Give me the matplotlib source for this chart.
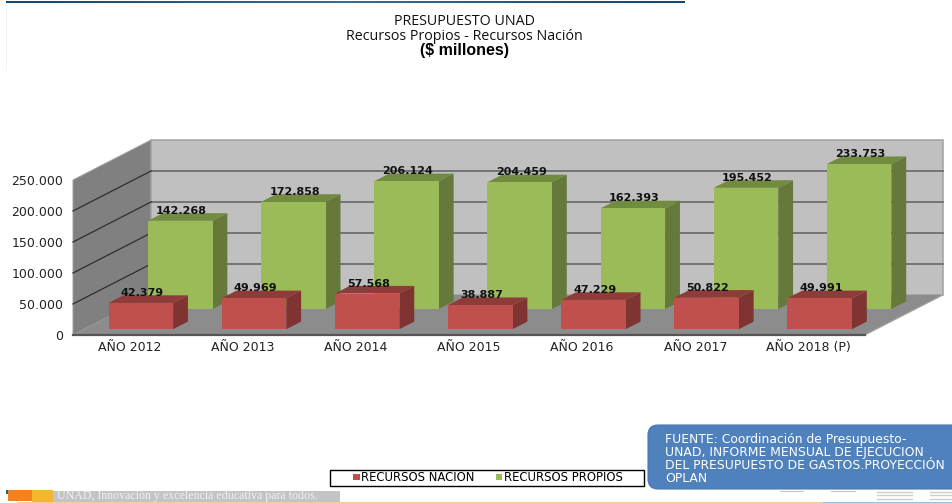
import matplotlib
matplotlib.use('Agg')
import matplotlib.pyplot as plt
from matplotlib.colors import LinearSegmentedColormap
from matplotlib.patches import Polygon, Rectangle, FancyBboxPatch
import numpy as np

years = ['AÑO 2012', 'AÑO 2013', 'AÑO 2014', 'AÑO 2015', 'AÑO 2016', 'AÑO 2017', 'AÑO 2018 (P)']
recursos_nacion = [42379, 49969, 57568, 38887, 47229, 50822, 49991]
recursos_propios = [142268, 172858, 206124, 204459, 162393, 195452, 233753]
y_ticks = [0, 50000, 100000, 150000, 200000, 250000]

W, H = 952, 503
# front plane of the chart box, in pixels
LEFT, RIGHT, BASE, TOP = 73, 865, 335, 180

# oblique depth of the box, expressed in data units
DEPTH_X = 78 / ((RIGHT - LEFT) / len(years))
DEPTH_Y = 40 / ((BASE - TOP) / 250000)
BAR_W = 64.5 / ((RIGHT - LEFT) / len(years))


def fmt(v):
    return f'{v:,}'.replace(',', '.')


def pt(x, y, d=0.0):
    return (x + d * DEPTH_X, y + d * DEPTH_Y)


def draw_box(ax):
    n = len(years)
    left_wall = [pt(0, 0), pt(0, 0, 1), pt(0, 250000, 1), pt(0, 250000)]
    back_wall = [pt(0, 0, 1), pt(n, 0, 1), pt(n, 250000, 1), pt(0, 250000, 1)]
    floor = [pt(0, 0), pt(n, 0), pt(n, 0, 1), pt(0, 0, 1)]
    ax.add_patch(Polygon(left_wall, fc='#808080', ec='#a0a0a0', lw=0.7, clip_on=False, zorder=1))
    ax.add_patch(Polygon(back_wall, fc='#c0c0c0', ec='#a0a0a0', lw=1.1, clip_on=False, zorder=1))
    ax.add_patch(Polygon(floor, fc='#8c8c8c', ec='none', clip_on=False, zorder=1))
    for v in y_ticks[1:]:
        x0, y0 = pt(0, v)
        x1, y1 = pt(0, v, 1)
        x2, y2 = pt(len(years), v, 1)
        if v == y_ticks[-1]:
            continue
        ax.plot([x1, x2], [y1, y2], color='#666666', lw=1.2, clip_on=False, zorder=2)
        ax.plot([x0, x1], [y0, y1], color='#2e2e2e', lw=0.9, clip_on=False, zorder=2)
    ax.plot(*zip(pt(n, 0), pt(n, 0, 1)), color='#a8a8a8', lw=0.8, clip_on=False, zorder=2)
    ax.plot([0, n], [0, 0], color='#555555', lw=1.6, clip_on=False, zorder=2)


def draw_bars(ax, values, offset, depth, front, top, side, label, z):
    for i, v in enumerate(values):
        x0 = i + 0.5 - BAR_W / 2
        x1 = x0 + BAR_W
        d0, d1 = offset, offset + depth
        ax.add_patch(Polygon([pt(x0, v, d0), pt(x1, v, d0), pt(x1, v, d1), pt(x0, v, d1)],
                             fc=top, ec='none', clip_on=False, zorder=z))
        ax.add_patch(Polygon([pt(x1, 0, d0), pt(x1, 0, d1), pt(x1, v, d1), pt(x1, v, d0)],
                             fc=side, ec='none', clip_on=False, zorder=z))
        fx, fy = pt(x0, 0, d0)
        ax.add_patch(Rectangle((fx, fy), BAR_W, v, fc=front, ec='none', clip_on=False, zorder=z))
        ax.annotate(fmt(v), pt(i + 0.5, v, d0), xytext=(1, 10 * 0.72), textcoords='offset points',
                    ha='center', va='center', fontsize=8, fontweight='bold', color='#111111',
                    annotation_clip=False, zorder=z + 1)
    return Rectangle((0, 0), 1, 1, fc=front, ec='none', label=label)


fig = plt.figure(figsize=(W / 100, H / 100), dpi=100)

# page decoration, in pixel coordinates
bg = fig.add_axes([0, 0, 1, 1])
hdr = LinearSegmentedColormap.from_list('hdr', ['#17456b', '#2f6f9f', '#17456b'])
bg.imshow(np.linspace(0, 1, 256).reshape(1, -1), extent=(6, 685, 3, 1), aspect='auto', cmap=hdr)
bg.set_xlim(0, W)
bg.set_ylim(H, 0)
bg.axis('off')
bg.plot([5.5, 5.5], [3, 70], color='#f2f2f2', lw=0.7)
bg.add_patch(Rectangle((53, 491), 287, 11, fc='#c4c4c4', ec='none'))
bg.add_patch(Rectangle((8, 490), 24, 11, fc='#f58220', ec='none'))
bg.add_patch(Rectangle((32, 490), 21, 12, fc='#f2b632', ec='none'))
bg.add_patch(Rectangle((6, 490), 2, 3.5, fc='#1f5f7f', ec='none'))
bg.add_patch(Rectangle((18, 501.5), 805, 1.5, fc='#fbc99a', ec='none'))
bg.add_patch(Rectangle((823, 501.5), 129, 1.5, fc='#8fc3e0', ec='none'))
# small smudges of the signature blocks under the note
for x0, x1 in [(780, 803), (831, 855)]:
    bg.plot([x0, x1], [490.5, 490.5], color='#c8c8c8', lw=0.8)
for x0, x1 in [(877, 912), (930, 952)]:
    for y in [492, 495, 498.5]:
        bg.plot([x0, x1], [y, y], color='#cfcfcf', lw=1.0)
bg.text(57, 496.5, 'UNAD, Innovación y excelencia educativa para todos.', color='#f0f0f0',
        fontsize=8.6, family='Liberation Serif', va='center', ha='left')
bg.add_patch(FancyBboxPatch((648, 425), 330, 64, boxstyle='round,pad=0,rounding_size=10',
                            fc='#4f81bd', ec='#4a78b0', lw=0.8, clip_on=False))
fuente = ['FUENTE: Coordinación de Presupuesto-', 'UNAD, INFORME MENSUAL DE EJECUCION',
          'DEL PRESUPUESTO DE GASTOS.PROYECCIÓN', 'OPLAN']
for line, y in zip(fuente, [439.5, 452.5, 465.5, 479]):
    bg.text(665, y, line, color='white', fontsize=8.9, va='center', ha='left')

fig.text(464.5 / W, 1 - 21.5 / H, 'PRESUPUESTO UNAD', ha='center', va='center',
         fontsize=10.3, family='Open Sans', color='#111111')
fig.text(464.5 / W, 1 - 36 / H, 'Recursos Propios - Recursos Nación', ha='center', va='center',
         fontsize=10.3, family='Open Sans', color='#111111')
fig.text(464.5 / W, 1 - 50.5 / H, '($ millones)', ha='center', va='center', fontsize=11.5,
         fontweight='bold', family='Liberation Sans', color='black')

# main chart
ax = fig.add_axes([LEFT / W, 1 - BASE / H, (RIGHT - LEFT) / W, (BASE - TOP) / H])
ax.patch.set_alpha(0)
ax.set_xlim(0, len(years))
ax.set_ylim(0, 250000)
for s in ax.spines.values():
    s.set_visible(False)
ax.set_xticks(np.arange(len(years)) + 0.5)
ax.set_xticklabels(years, fontsize=9, color='#222222')
ax.set_yticks(y_ticks)
ax.set_yticklabels([fmt(v) for v in y_ticks], fontsize=9, color='#222222')
ax.tick_params(axis='x', length=0, pad=4)
ax.tick_params(axis='y', length=0, pad=7)

draw_box(ax)
h_prop = draw_bars(ax, recursos_propios, 0.65, 0.19, '#9bbb59', '#728c3f', '#64793a', 'RECURSOS PROPIOS', 3)
h_nac = draw_bars(ax, recursos_nacion, 0.145, 0.19, '#c0504d', '#8f3b39', '#7f3432', 'RECURSOS NACION', 5)

# legend frame is a fixed box, wider than its content
bg.add_patch(Rectangle((330, 469.5), 314, 16, fc='white', ec='black', lw=1.0))
leg = fig.legend(handles=[h_nac, h_prop], ncol=2, loc='center', bbox_to_anchor=(488 / W, 1 - 477.5 / H),
                 fontsize=8.4, frameon=False, handlelength=0.55, handleheight=0.5, handletextpad=0.1,
                 columnspacing=1.85, borderpad=0, borderaxespad=0)

fig.savefig('out.png', dpi=100)
